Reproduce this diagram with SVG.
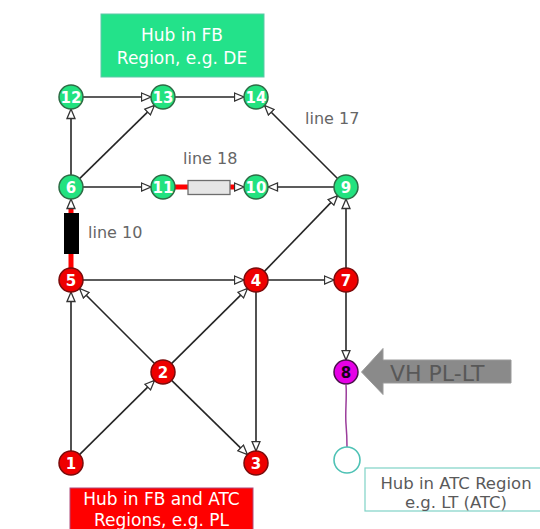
<svg xmlns="http://www.w3.org/2000/svg" width="540" height="529" viewBox="0 0 540 529">
  <style>
    .edge { stroke: #262626; stroke-width: 1.6; fill: none; marker-end: url(#tip); }
    .hot { stroke: #ff0000; stroke-width: 5; fill: none; }
    .node circle { stroke-width: 1.5; }
    .fb circle { fill: #22e27f; stroke: #2e6b45; }
    .atc circle { fill: #ee0000; stroke: #7a0b0b; }
    .vh circle { fill: #e600e6; stroke: #4a104a; }
    .node text { font-family: "DejaVu Sans", sans-serif; font-weight: bold; font-size: 15px; fill: #ffffff; text-anchor: middle; }
    .vh text { fill: #1a001a; }
    .lbl { font-family: "DejaVu Sans", sans-serif; font-size: 16px; fill: #666666; }
    .boxtxt { font-family: "DejaVu Sans", sans-serif; font-size: 17px; fill: #ffffff; text-anchor: middle; }
  </style>
  <defs>
    <marker id="tip" markerUnits="userSpaceOnUse" markerWidth="12" markerHeight="12" viewBox="0 0 12 12" refX="10.5" refY="6" orient="auto">
      <path d="M1,2 L10.5,6 L1,10 Z" fill="#ffffff" stroke="#333333" stroke-width="1.3"/>
    </marker>
  </defs>

  <rect width="540" height="529" fill="#ffffff"/>

  <!-- region captions -->
  <g id="caption-fb">
    <rect x="101" y="14" width="163" height="63" fill="#23e28a" stroke="#5fc7a8" stroke-width="1"/>
    <text class="boxtxt" x="182" y="41">Hub in FB</text>
    <text class="boxtxt" x="182" y="64">Region, e.g. DE</text>
  </g>
  <g id="caption-fb-atc">
    <rect x="70" y="488" width="183" height="45" fill="#ff0000" stroke="#b04a7a" stroke-width="1"/>
    <text class="boxtxt" x="161.5" y="505">Hub in FB and ATC</text>
    <text class="boxtxt" x="161.5" y="526">Regions, e.g. PL</text>
  </g>
  <g id="caption-atc">
    <rect x="365" y="468" width="180" height="43" fill="#ffffff" stroke="#7fd3c6" stroke-width="1.2"/>
    <text x="456" y="489" font-family="DejaVu Sans, sans-serif" font-size="16.5" fill="#5a5a5a" text-anchor="middle">Hub in ATC Region</text>
    <text x="456" y="508" font-family="DejaVu Sans, sans-serif" font-size="16.5" fill="#5a5a5a" text-anchor="middle">e.g. LT (ATC)</text>
  </g>

  <!-- connectors -->
  <g id="connectors">
    <line class="edge" x1="83" y1="97" x2="151" y2="97"/>
    <line class="edge" x1="175" y1="97" x2="244" y2="97"/>
    <line class="edge" x1="71" y1="175" x2="71" y2="109"/>
    <line class="edge" x1="79.6" y1="178.6" x2="154.4" y2="105.4"/>
    <line class="edge" x1="337.5" y1="178.5" x2="264.5" y2="105.5"/>
    <line class="edge" x1="83" y1="187" x2="151" y2="187"/>
    <line class="edge" x1="334" y1="187" x2="268" y2="187"/>
    <line class="edge" x1="83" y1="280" x2="244" y2="280"/>
    <line class="edge" x1="264.4" y1="271.4" x2="337.6" y2="195.6"/>
    <line class="edge" x1="268" y1="280" x2="334" y2="280"/>
    <line class="edge" x1="346" y1="268" x2="346" y2="199"/>
    <line class="edge" x1="346" y1="292" x2="346" y2="360"/>
    <line class="edge" x1="256" y1="292" x2="256" y2="451"/>
    <line class="edge" x1="171.5" y1="363.6" x2="247.5" y2="288.4"/>
    <line class="edge" x1="154.5" y1="363.5" x2="79.5" y2="288.5"/>
    <line class="edge" x1="171.6" y1="380.4" x2="247.4" y2="454.6"/>
    <line class="edge" x1="79.5" y1="454.6" x2="154.5" y2="380.4"/>
    <line class="edge" x1="71" y1="451" x2="71" y2="292"/>

    <!-- line 18: 11 to 10 through a series element -->
    <line class="hot" x1="175" y1="187" x2="189" y2="187"/>
    <line class="hot" x1="230" y1="187" x2="238" y2="187"/>
    <line x1="236" y1="187" x2="244" y2="187" stroke="#262626" stroke-width="1" marker-end="url(#tip)"/>
    <rect x="188" y="180.5" width="42" height="14" fill="#e6e6e6" stroke="#6e6e6e" stroke-width="1.3"/>

    <!-- line 10: 5 to 6 through a series element -->
    <line class="hot" x1="71" y1="268" x2="71" y2="253"/>
    <line class="hot" x1="71" y1="214" x2="71" y2="206"/>
    <line x1="71" y1="208" x2="71" y2="199" stroke="#262626" stroke-width="1" marker-end="url(#tip)"/>
    <rect x="64" y="213" width="15" height="41" fill="#000000"/>

    <!-- virtual hub link -->
    <path d="M346 385 C347 398 345 412 346 424 S347 440 347 447" fill="none" stroke="#9b3d9b" stroke-width="1.5"/>
  </g>

  <!-- line labels -->
  <text class="lbl" x="305" y="124">line 17</text>
  <text class="lbl" x="183" y="164">line 18</text>
  <text class="lbl" x="88" y="238">line 10</text>

  <!-- virtual hub arrow -->
  <g id="vh-arrow">
    <path d="M361.5 372 L383 348.5 L383 360 L511 360 L511 383 L383 383 L383 394.5 Z" fill="#8a8a8a" stroke="#9a9a9a" stroke-width="1"/>
    <text x="390" y="381" font-family="DejaVu Sans, sans-serif" font-size="22" fill="#585858">VH PL-LT</text>
  </g>

  <!-- nodes -->
  <g id="n12" class="node fb"><circle cx="71" cy="97" r="12"/><text x="71" y="102.5">12</text></g>
  <g id="n13" class="node fb"><circle cx="163" cy="97" r="12"/><text x="163" y="102.5">13</text></g>
  <g id="n14" class="node fb"><circle cx="256" cy="97" r="12"/><text x="256" y="102.5">14</text></g>
  <g id="n6" class="node fb"><circle cx="71" cy="187" r="12"/><text x="71" y="192.5">6</text></g>
  <g id="n11" class="node fb"><circle cx="163" cy="187" r="12"/><text x="163" y="192.5">11</text></g>
  <g id="n10" class="node fb"><circle cx="256" cy="187" r="12"/><text x="256" y="192.5">10</text></g>
  <g id="n9" class="node fb"><circle cx="346" cy="187" r="12"/><text x="346" y="192.5">9</text></g>
  <g id="n5" class="node atc"><circle cx="71" cy="280" r="12"/><text x="71" y="285.5">5</text></g>
  <g id="n4" class="node atc"><circle cx="256" cy="280" r="12"/><text x="256" y="285.5">4</text></g>
  <g id="n7" class="node atc"><circle cx="346" cy="280" r="12"/><text x="346" y="285.5">7</text></g>
  <g id="n2" class="node atc"><circle cx="163" cy="372" r="12"/><text x="163" y="377.5">2</text></g>
  <g id="n1" class="node atc"><circle cx="71" cy="463" r="12"/><text x="71" y="468.5">1</text></g>
  <g id="n3" class="node atc"><circle cx="256" cy="463" r="12"/><text x="256" y="468.5">3</text></g>
  <g id="n8" class="node vh"><circle cx="346" cy="372" r="12"/><text x="346" y="377.5">8</text></g>
  <g id="hub-atc"><circle cx="347" cy="460" r="13" fill="#ffffff" stroke="#4fc2b5" stroke-width="1.6"/></g>
</svg>
